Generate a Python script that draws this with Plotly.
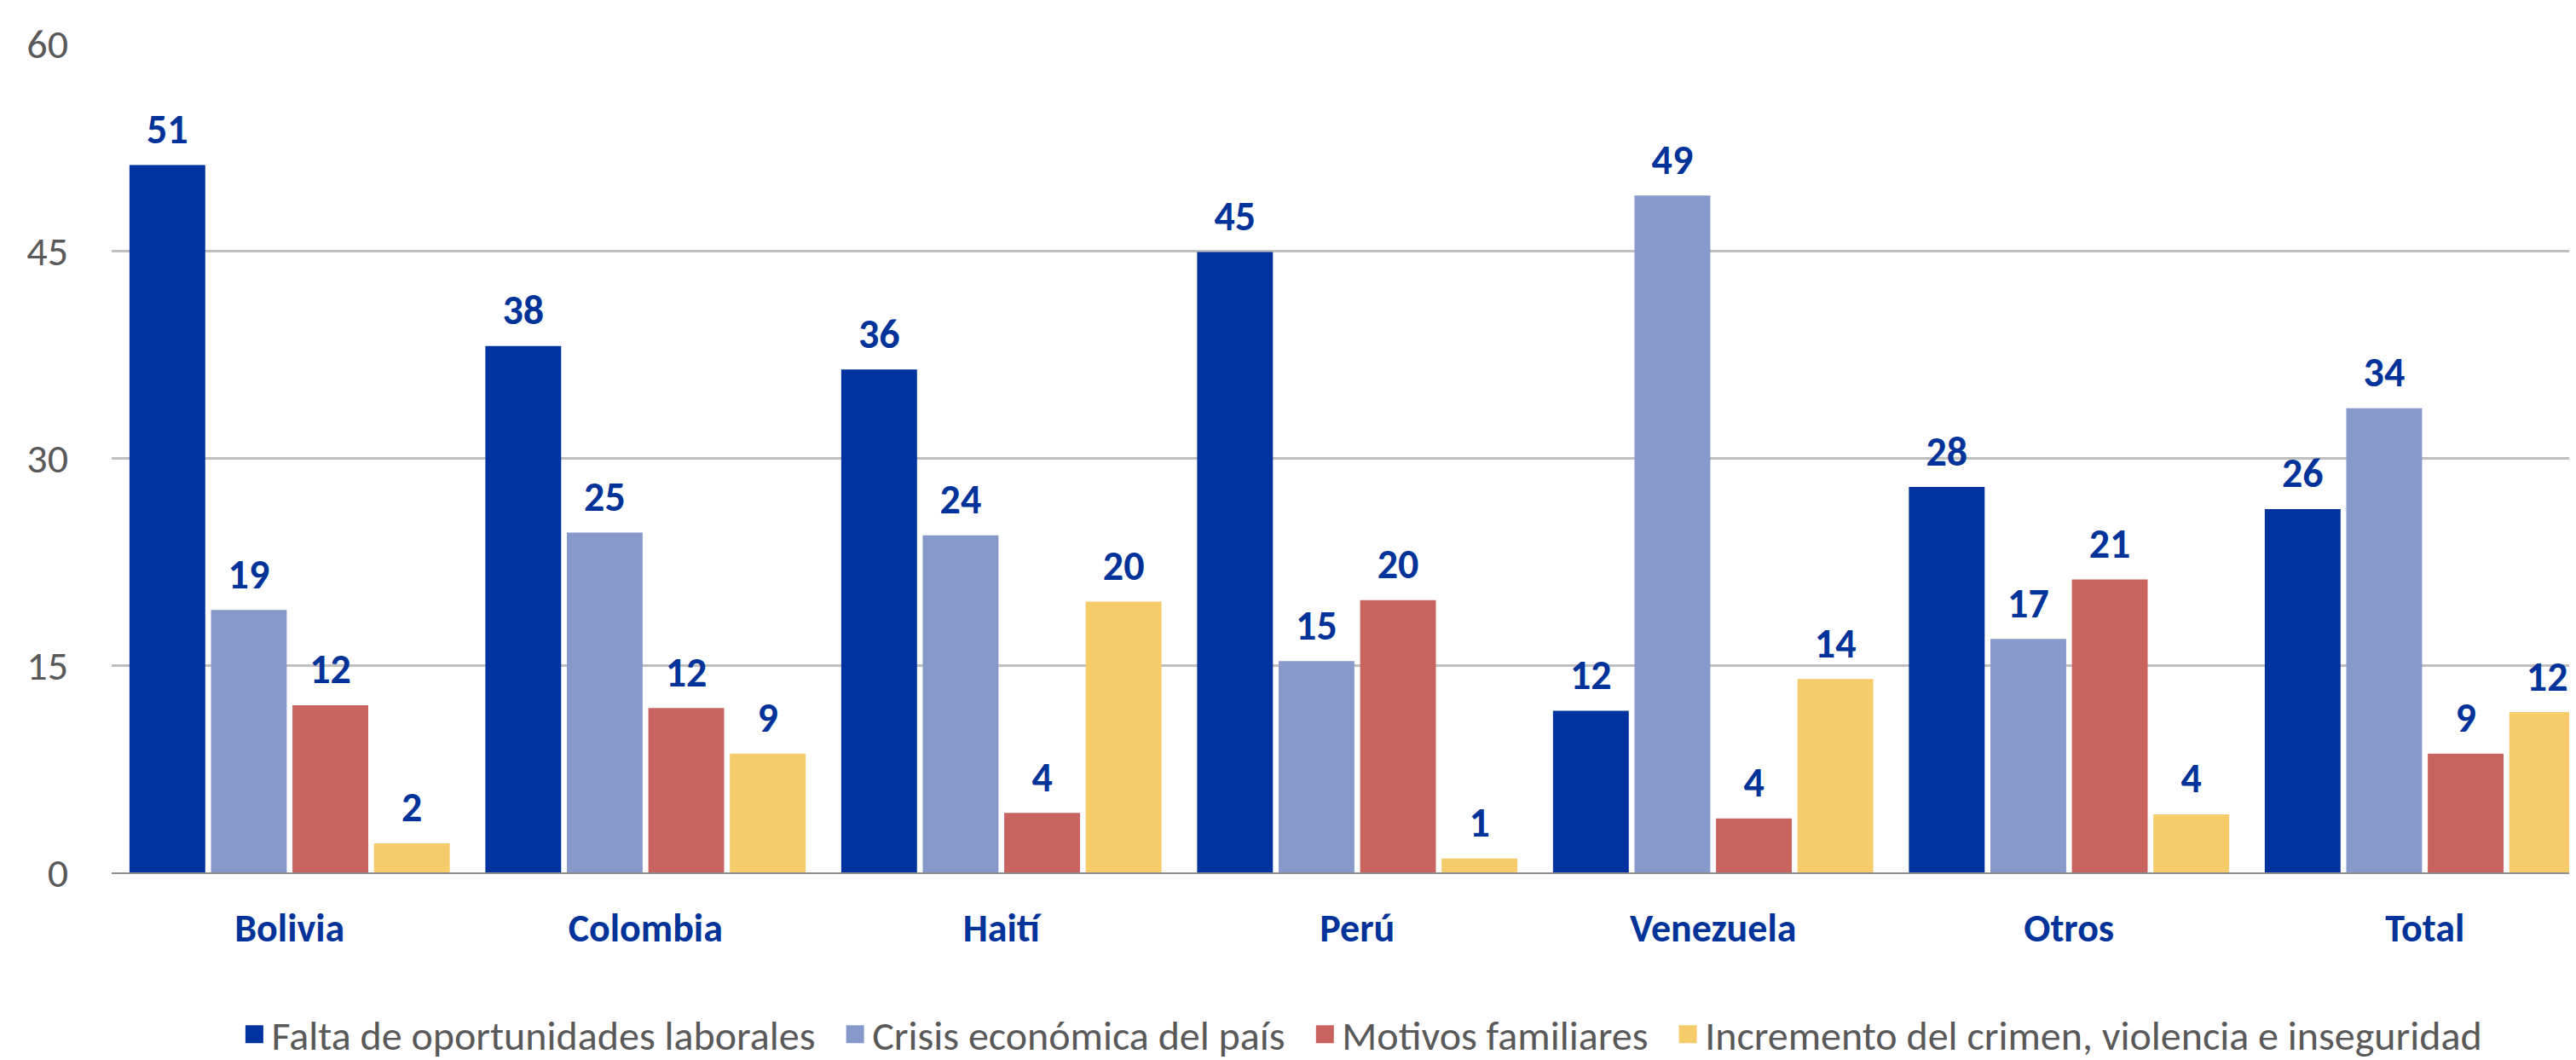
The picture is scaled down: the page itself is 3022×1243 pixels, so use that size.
import plotly.graph_objects as go

# data
paises = ["Bolivia", "Colombia", "Haití", "Perú", "Venezuela", "Otros", "Total"]

falta_oportunidades = [51.2, 38.1, 36.4, 44.9, 11.7, 27.9, 26.3]
crisis_economica = [19.0, 24.6, 24.4, 15.3, 49.0, 16.9, 33.6]
motivos_familiares = [12.1, 11.9, 4.3, 19.7, 3.9, 21.2, 8.6]
incremento_crimen = [2.1, 8.6, 19.6, 1.0, 14.0, 4.2, 11.6]

series = [
    ("Falta de oportunidades laborales", falta_oportunidades, "#0033A0"),
    ("Crisis económica del país", crisis_economica, "#8799CA"),
    ("Motivos familiares", motivos_familiares, "#C96360"),
    ("Incremento del crimen, violencia e inseguridad", incremento_crimen, "#F6CB6A"),
]

FONT = "Calibri, Carlito, Lato, sans-serif"
LABEL_BLUE = "#003399"
GREY = "#595959"
BARGAP = 0.084
NBSP = "\u00a0"

fig = go.Figure()
for i, (name, vals, color) in enumerate(series):
    fig.add_trace(go.Bar(
        x=paises,
        y=vals,
        name=name,
        offsetgroup=str(i),
        marker=dict(color=color, line=dict(width=0)),
        showlegend=False,
    ))
    # value labels, grouped like the bars; the hidden marker pushes the text up a bit
    fig.add_trace(go.Scatter(
        x=paises,
        y=vals,
        mode="markers+text",
        offsetgroup=str(i),
        text=[f"{v:.0f}" for v in vals],
        textposition="top center",
        textfont=dict(family=FONT, size=48, color=LABEL_BLUE, weight="bold"),
        marker=dict(size=20, color="rgba(0,0,0,0)"),
        cliponaxis=False,
        showlegend=False,
        hoverinfo="skip",
    ))
    # legend entry with a bigger square swatch
    pad = NBSP * 2 if i < len(series) - 1 else ""
    fig.add_trace(go.Scatter(
        x=[None],
        y=[None],
        mode="markers",
        name=name + pad,
        marker=dict(symbol="square", size=16, color=color, line=dict(color=color, width=5)),
    ))

W, H = 3022, 1243
ml, mr, mt, mb = 123, 0, 43, 214
cat_px = 417.5
plot_w = W - ml - mr

fig.update_layout(
    width=W,
    height=H,
    margin=dict(l=ml, r=mr, t=mt, b=mb),
    paper_bgcolor="white",
    plot_bgcolor="white",
    barmode="group",
    bargap=BARGAP,
    bargroupgap=0.07,
    scattermode="group",
    scattergap=BARGAP,
    font=dict(family=FONT, size=48, color=GREY),
    legend=dict(
        orientation="h",
        x=0.506,
        xanchor="center",
        y=-0.196,
        yanchor="middle",
        font=dict(family=FONT, size=48, color=GREY),
        itemwidth=30,
    ),
)

fig.update_xaxes(
    range=[-0.5, -0.5 + plot_w / cat_px],
    showgrid=False,
    showline=True,
    linecolor="#8C8C8C",
    linewidth=2,
    ticks="",
    tickfont=dict(family=FONT, size=46, color=LABEL_BLUE, weight="bold"),
    ticklabelstandoff=24,
)

fig.update_yaxes(
    range=[0, 60],
    tickvals=[0, 15, 30, 45, 60],
    showgrid=True,
    gridcolor="#BFBFBF",
    gridwidth=2.5,
    zeroline=False,
    showline=False,
    ticks="",
    tickfont=dict(family=FONT, size=48, color=GREY),
    ticklabelstandoff=50,
)

fig.write_html("out.html")
